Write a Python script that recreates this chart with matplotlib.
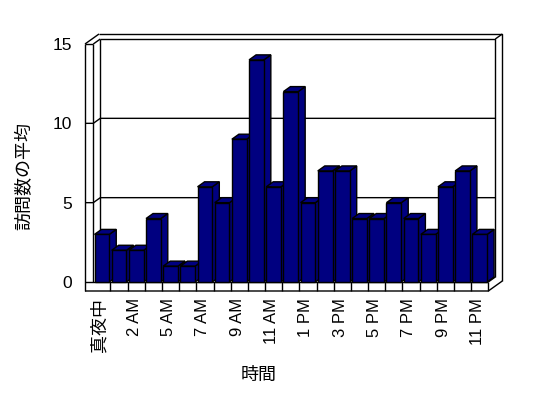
import matplotlib
matplotlib.use("Agg")  # headless
import matplotlib.pyplot as plt
from matplotlib.patches import Polygon
import numpy as np

plt.rcParams["font.family"] = ["Liberation Sans", "Noto Sans CJK JP"]

# ---------------------------------------------------------------------------
# Data
# ---------------------------------------------------------------------------
hour_labels = [
    "真夜中", "1 AM", "2 AM", "3 AM", "5 AM", "6 AM", "7 AM", "8 AM",
    "9 AM", "10 AM", "11 AM", "正午", "1 PM", "2 PM", "3 PM", "4 PM",
    "5 PM", "6 PM", "7 PM", "8 PM", "9 PM", "10 PM", "11 PM",
]
avg_visits = [3, 2, 2, 4, 1, 1, 6, 5, 9, 14, 6, 12, 5, 7, 7, 4, 4, 5, 4, 3, 6, 7, 3]
y_ticks = [0, 5, 10, 15]

NAVY = "#000080"
W, H = 548, 398

# ---------------------------------------------------------------------------
# Layout (front plane of the fake 3D box, in pixels)
# ---------------------------------------------------------------------------
px_left, px_right = 93.3, 488.3
px_zero, px_top = 282.0, 44.0

fig = plt.figure(figsize=(W / 100, H / 100), dpi=100)
ax = fig.add_axes([px_left / W, (H - px_zero) / H,
                   (px_right - px_left) / W, (px_zero - px_top) / H])

n = len(avg_visits)
x = np.arange(n)
ax.set_xlim(-0.5, n - 0.5)
ax.set_ylim(0, 15)
for s in ax.spines.values():
    s.set_visible(False)

# pixel -> data unit helpers
ux = (px_right - px_left) / n          # px per category
uy = (px_zero - px_top) / 15.0         # px per value unit
ddx, ddy = 7.0 / ux, 5.0 / uy          # depth offset
wall_t = 8.3 / ux                      # left wall thickness
floor_t = 9.0 / uy                     # floor thickness
x0, x1 = -0.5, n - 0.5
top = 15

line_kw = dict(color="black", lw=1.0, clip_on=False, solid_capstyle="butt")


def seg(xs, ys, z=1):
    ax.plot(xs, ys, zorder=z, **line_kw)


# gridlines (front edge of wall -> back wall)
for v in y_ticks[1:-1]:
    seg([x0 - wall_t, x0, x0 + ddx, x1 + ddx], [v, v, v + ddy, v + ddy])

# back wall
seg([x0 + ddx, x0 + ddx], [ddy, top + ddy])
seg([x0 + ddx, x1 + ddx, x1 + ddx], [top + ddy, top + ddy, ddy])
seg([x1 + ddx, x1 + 2 * ddx], [top + ddy, top + 2 * ddy])
seg([x0 - wall_t + 2 * ddx, x1 + 2 * ddx, x1 + 2 * ddx],
    [top + 2 * ddy, top + 2 * ddy, -floor_t + 2 * ddy])

# left wall
seg([x0 - wall_t, x0 - wall_t], [-floor_t, top])
seg([x0, x0], [0, top])
seg([x0 - wall_t, x0], [top, top])
seg([x0 - wall_t, x0 - wall_t + 2 * ddx], [top, top + 2 * ddy])
seg([x0, x0 + ddx], [top, top + ddy])

# floor
seg([x0 - wall_t, x1, x1 + 2 * ddx], [-floor_t, -floor_t, -floor_t + 2 * ddy])
seg([x0 - wall_t, x1], [0, 0])
seg([x1, x1], [-floor_t, 0])
seg([x1, x1 + ddx], [0, ddy])
for b in np.arange(x0 + 1, x1):
    seg([b, b], [-floor_t, 0])

# bars: front faces from ax.bar, top/side faces derived from each rect
bars = ax.bar(x, avg_visits, width=0.86, color=NAVY, edgecolor="black",
              linewidth=1.0)
for i, r in enumerate(bars):
    z = 3 + i * 0.01
    bx, bw, bh = r.get_x(), r.get_width(), r.get_height()
    side = Polygon([(bx + bw, 0), (bx + bw, bh), (bx + bw + ddx, bh + ddy),
                    (bx + bw + ddx, ddy)], closed=True, facecolor=NAVY,
                   edgecolor="black", lw=1.0, zorder=z, clip_on=False)
    cap = Polygon([(bx, bh), (bx + bw, bh), (bx + bw + ddx, bh + ddy),
                   (bx + ddx, bh + ddy)], closed=True, facecolor=NAVY,
                  edgecolor="black", lw=1.0, zorder=z, clip_on=False)
    ax.add_patch(side)
    ax.add_patch(cap)
    r.set_zorder(z + 0.001)
    r.set_clip_on(False)

# ticks
ax.set_yticks(y_ticks)
ax.set_yticklabels([str(t) for t in y_ticks], fontsize=12.5)
ax.tick_params(axis="y", length=0, pad=15.5)
ax.set_xticks(x[::2] - 0.12)
ax.set_xticklabels(hour_labels[::2], rotation=90, fontsize=12)
ax.tick_params(axis="x", length=0, pad=11.5)
ax.get_xticklabels()[0].set_fontsize(13)

fig.text(25 / W, 1 - 176 / H, "訪問数の平均", rotation=90, ha="center",
         va="center", fontsize=13)
fig.text(259 / W, 1 - 375.5 / H, "時間", ha="center", va="center", fontsize=13)

fig.savefig("out.png", dpi=100, facecolor="white")
